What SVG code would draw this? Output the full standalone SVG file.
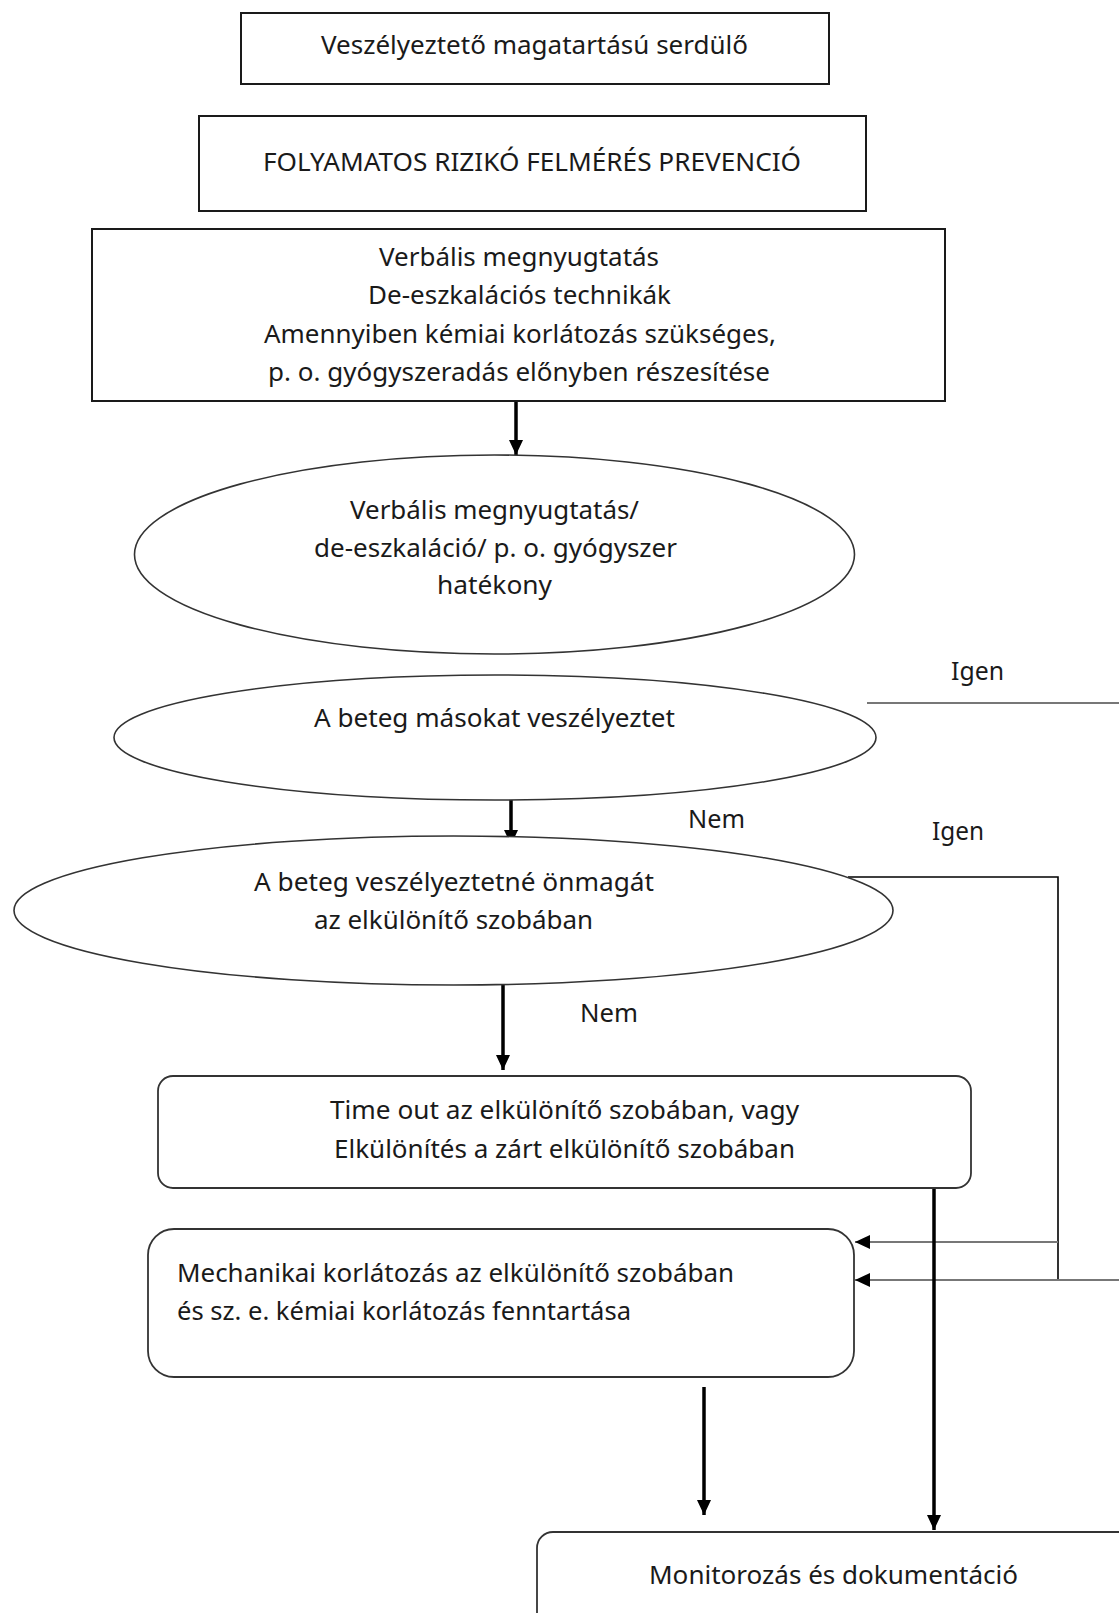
<svg xmlns="http://www.w3.org/2000/svg" width="1119" height="1613" viewBox="0 0 1119 1613">
<style>
.box{fill:#fff;stroke:#1a1a1a;stroke-width:2}
.rbox{fill:#fff;stroke:#333;stroke-width:1.8}
.ell{fill:#fff;stroke:#333;stroke-width:1.6}
.t{font-family:"Noto Sans","Liberation Sans",sans-serif;font-size:25px;fill:#1a1a1a}
.c{text-anchor:middle}
.thick{stroke:#000;stroke-width:3.5;fill:none}
.thin{stroke:#000;stroke-width:1.6;fill:none}
.gray{stroke:#777;stroke-width:2.2;fill:none}
</style>
<defs>
<marker id="ah" markerUnits="userSpaceOnUse" markerWidth="16" markerHeight="15" refX="15" refY="7" orient="auto">
<path d="M0,0 L15,7 L0,14 z" fill="#000"/>
</marker>
</defs>
<rect width="1119" height="1613" fill="#fff"/>
<g id="connectors">
<line class="thick" x1="516" y1="401" x2="516" y2="455" marker-end="url(#ah)"/>
<line class="thick" x1="511" y1="800" x2="511" y2="845" marker-end="url(#ah)"/>
<line class="thick" x1="503" y1="985" x2="503" y2="1070" marker-end="url(#ah)"/>
<line class="gray" x1="867" y1="703" x2="1119" y2="703"/>
<path class="thin" d="M848,877 H1058 V1280"/>
<line class="gray" x1="1058" y1="1242" x2="855" y2="1242" marker-end="url(#ah)"/>
<line class="gray" x1="1119" y1="1280" x2="855" y2="1280" marker-end="url(#ah)"/>
<line class="thick" x1="934" y1="1188" x2="934" y2="1530" marker-end="url(#ah)"/>
<line class="thick" x1="704" y1="1387" x2="704" y2="1515" marker-end="url(#ah)"/>
<text class="t c" x="977.5" y="680" textLength="53" lengthAdjust="spacingAndGlyphs">Igen</text>
<text class="t c" x="716.5" y="828" textLength="57" lengthAdjust="spacingAndGlyphs">Nem</text>
<text class="t c" x="958" y="840" textLength="52" lengthAdjust="spacingAndGlyphs">Igen</text>
<text class="t c" x="609" y="1022" textLength="58" lengthAdjust="spacingAndGlyphs">Nem</text>
</g>
<g id="n1">
<rect class="box" x="241" y="13" width="588" height="71"/>
<text class="t c" x="534.5" y="54" textLength="427" lengthAdjust="spacingAndGlyphs">Veszélyeztető magatartású serdülő</text>
</g>
<g id="n2">
<rect class="box" x="199" y="116" width="667" height="95"/>
<text class="t c" x="532" y="171" textLength="538" lengthAdjust="spacingAndGlyphs">FOLYAMATOS RIZIKÓ FELMÉRÉS PREVENCIÓ</text>
</g>
<g id="n3">
<rect class="box" x="92" y="229" width="853" height="172"/>
<text class="t c" x="519" y="266" textLength="280" lengthAdjust="spacingAndGlyphs">Verbális megnyugtatás</text>
<text class="t c" x="519.5" y="304" textLength="303" lengthAdjust="spacingAndGlyphs">De-eszkalációs technikák</text>
<text class="t c" x="520" y="343" textLength="512" lengthAdjust="spacingAndGlyphs">Amennyiben kémiai korlátozás szükséges,</text>
<text class="t c" x="519" y="381" textLength="502" lengthAdjust="spacingAndGlyphs">p. o. gyógyszeradás előnyben részesítése</text>
</g>
<g id="n4">
<ellipse class="ell" cx="494.5" cy="554.5" rx="360" ry="99.5"/>
<text class="t c" x="494.5" y="519" textLength="289" lengthAdjust="spacingAndGlyphs">Verbális megnyugtatás/</text>
<text class="t c" x="495.5" y="557" textLength="363" lengthAdjust="spacingAndGlyphs">de-eszkaláció/ p. o. gyógyszer</text>
<text class="t c" x="494.5" y="594" textLength="115" lengthAdjust="spacingAndGlyphs">hatékony</text>
</g>
<g id="n5">
<ellipse class="ell" cx="495" cy="737.5" rx="381" ry="62.5"/>
<text class="t c" x="494.5" y="727" textLength="361" lengthAdjust="spacingAndGlyphs">A beteg másokat veszélyeztet</text>
</g>
<g id="n6">
<ellipse class="ell" cx="453.5" cy="910.5" rx="439.5" ry="74.5"/>
<text class="t c" x="454" y="891" textLength="400" lengthAdjust="spacingAndGlyphs">A beteg veszélyeztetné önmagát</text>
<text class="t c" x="453.5" y="929" textLength="279" lengthAdjust="spacingAndGlyphs">az elkülönítő szobában</text>
</g>
<g id="n7">
<rect class="rbox" x="158" y="1076" width="813" height="112" rx="15" ry="15"/>
<text class="t c" x="564.5" y="1119" textLength="469" lengthAdjust="spacingAndGlyphs">Time out az elkülönítő szobában, vagy</text>
<text class="t c" x="564.5" y="1158" textLength="461" lengthAdjust="spacingAndGlyphs">Elkülönítés a zárt elkülönítő szobában</text>
</g>
<g id="n8">
<rect class="rbox" x="148" y="1229" width="706" height="148" rx="26" ry="26"/>
<text class="t" x="177" y="1282" textLength="557" lengthAdjust="spacingAndGlyphs">Mechanikai korlátozás az elkülönítő szobában</text>
<text class="t" x="177" y="1320" textLength="454" lengthAdjust="spacingAndGlyphs">és sz. e. kémiai korlátozás fenntartása</text>
</g>
<g id="n9">
<rect class="rbox" x="537" y="1532" width="620" height="120" rx="16" ry="16"/>
<text class="t c" x="833.5" y="1584" textLength="369" lengthAdjust="spacingAndGlyphs">Monitorozás és dokumentáció</text>
</g>
</svg>
